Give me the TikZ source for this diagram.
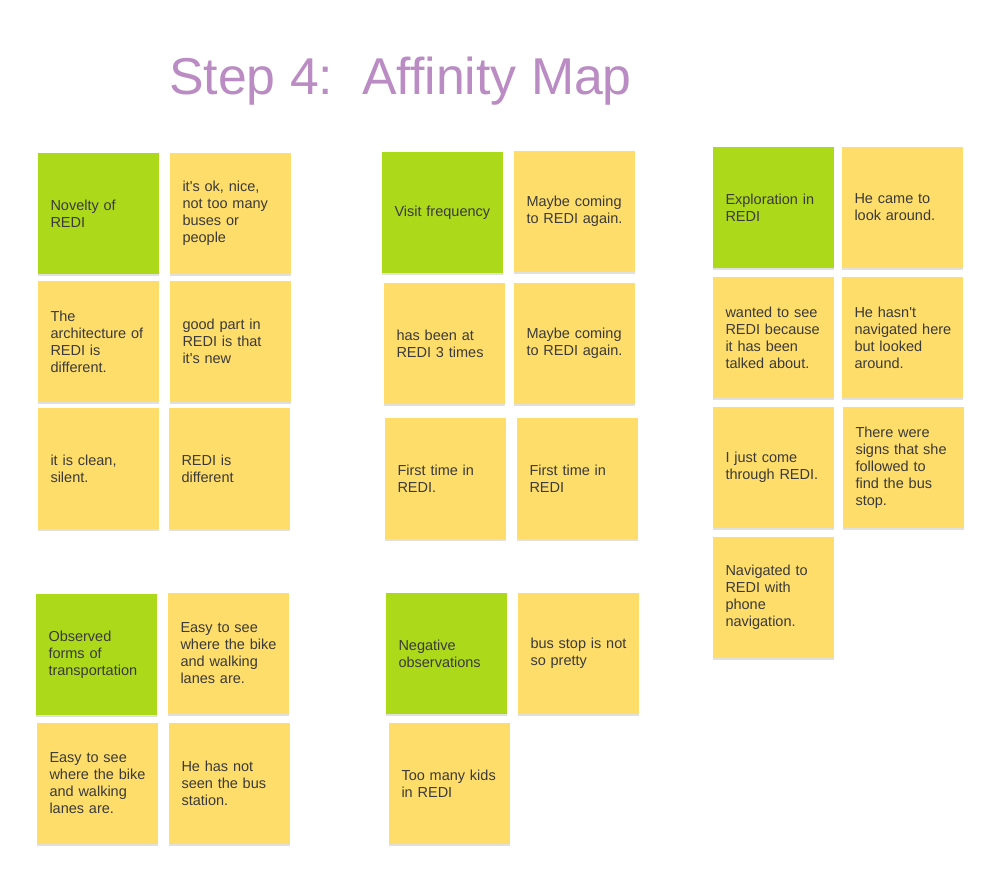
\documentclass[tikz,border=0pt]{standalone}
\usepackage{fontspec}
\setmainfont{Liberation Sans}
\usepackage{xcolor}
\usetikzlibrary{shadows}

\definecolor{topicgreen}{HTML}{ADD91B}
\definecolor{noteyellow}{HTML}{FEDD6A}
\definecolor{inkgray}{HTML}{3A3A3A}
\definecolor{titlepurple}{HTML}{BB8CC4}

\begin{document}
\begin{tikzpicture}[x=1pt,y=-1pt]
\tikzset{sticky/.style={rectangle,minimum width=121pt,minimum height=121pt,inner sep=0pt,
  text width=96pt,align=left,text=inkgray,font=\fontsize{14.5}{17}\selectfont,
  drop shadow={shadow xshift=0pt,shadow yshift=-2pt,fill=black,opacity=0.12}}}
\tikzset{topic/.style={sticky,fill=topicgreen}}
\tikzset{note/.style={sticky,fill=noteyellow}}

\useasboundingbox[fill=white] (0,0) rectangle (1002,893);

\node[anchor=base west,inner sep=0pt,text=titlepurple,font=\fontsize{51.8}{62}\selectfont] (title) at (169,95) {Step 4:\ \ Affinity Map};

% novelty
\node[topic] (novelty) at (98.5,213.5) {Novelty of\\REDI};
\node[note] (okNice) at (230.5,213.5) {it\textquotesingle s ok, nice,\\not too many\\buses or\\people};
\node[note] (architecture) at (98.5,341.5) {The\\architecture of\\REDI is\\different.};
\node[note] (goodPart) at (230.5,341.5) {good part in\\REDI is that\\it\textquotesingle s new};
\node[note] (clean) at (98.5,468.5) {it is clean,\\silent.};
\node[note] (different) at (229.5,468.5) {REDI is\\different};

% visit frequency
\node[topic] (frequency) at (442.5,212.5) {Visit frequency};
\node[note] (maybeA) at (574.5,211.5) {Maybe coming\\to REDI again.};
\node[note] (threeTimes) at (444.5,343.5) {has been at\\REDI 3 times};
\node[note] (maybeB) at (574.5,343.5) {Maybe coming\\to REDI again.};
\node[note] (firstA) at (445.5,478.5) {First time in\\REDI.};
\node[note] (firstB) at (577.5,478.5) {First time in\\REDI};

% exploration
\node[topic] (exploration) at (773.5,207.5) {Exploration in\\REDI};
\node[note] (lookAround) at (902.5,207.5) {He came to\\look around.};
\node[note] (talkedAbout) at (773.5,337.5) {wanted to see\\REDI because\\it has been\\talked about.};
\node[note] (notNavigated) at (902.5,337.5) {He hasn\textquotesingle t\\navigated~here\\but looked\\around.};
\node[note] (comeThrough) at (773.5,467.5) {I just come\\through REDI.};
\node[note] (signs) at (903.5,467.5) {There were\\signs that she\\followed to\\find the bus\\stop.};
\node[note] (phone) at (773.5,597.5) {Navigated to\\REDI with\\phone\\navigation.};

% transportation
\node[topic] (transport) at (96.5,654.5) {Observed\\forms of\\transportation};
\node[note] (lanesA) at (228.5,653.5) {Easy to see\\where the bike\\and walking\\lanes are.};
\node[note] (lanesB) at (97.5,783.5) {Easy to see\\where the bike\\and walking\\lanes are.};
\node[note] (busStation) at (229.5,783.5) {He has not\\seen the bus\\station.};

% negative
\node[topic] (negative) at (446.5,653.5) {Negative\\observations};
\node[note] (pretty) at (578.5,653.5) {bus stop is not\\so pretty};
\node[note] (kids) at (449.5,783.5) {Too many kids\\in REDI};

\end{tikzpicture}
\end{document}
